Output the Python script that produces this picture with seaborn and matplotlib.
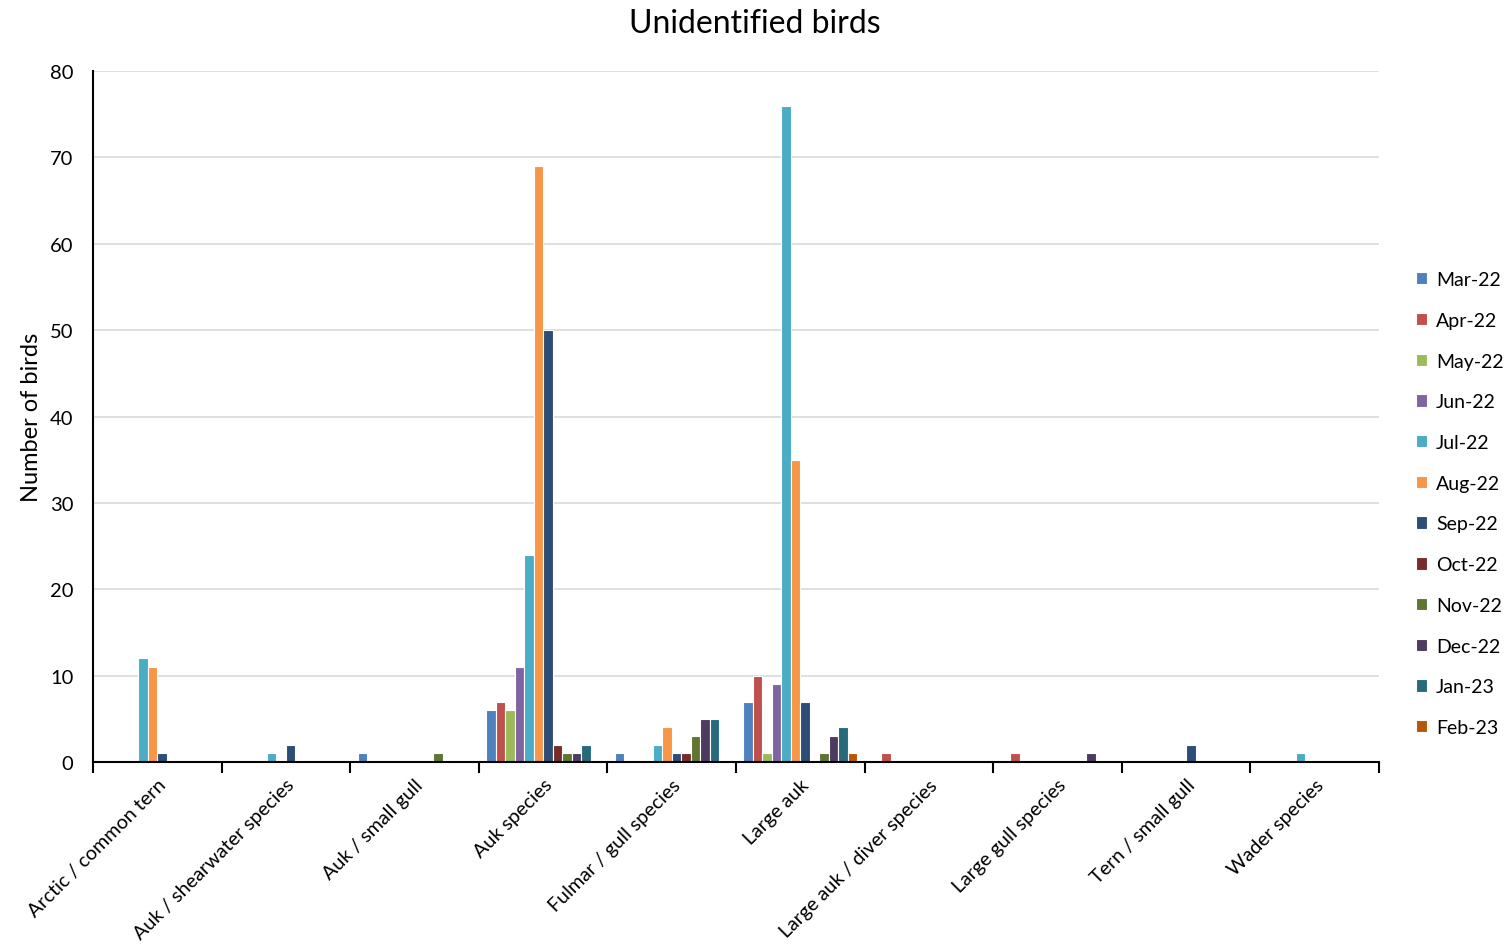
import numpy as np
import pandas as pd
import matplotlib
matplotlib.use("Agg")
import matplotlib.pyplot as plt
import seaborn as sns

categories = [
    "Arctic / common tern",
    "Auk / shearwater species",
    "Auk / small gull",
    "Auk species",
    "Fulmar / gull species",
    "Large auk",
    "Large auk / diver species",
    "Large gull species",
    "Tern / small gull",
    "Wader species",
]

months = ["Mar-22", "Apr-22", "May-22", "Jun-22", "Jul-22", "Aug-22",
          "Sep-22", "Oct-22", "Nov-22", "Dec-22", "Jan-23", "Feb-23"]

# counts per category, one entry per month (Mar-22 .. Feb-23)
arctic_common_tern = [0, 0, 0, 0, 12, 11, 1, 0, 0, 0, 0, 0]
auk_shearwater     = [0, 0, 0, 0, 1, 0, 2, 0, 0, 0, 0, 0]
auk_small_gull     = [1, 0, 0, 0, 0, 0, 0, 0, 1, 0, 0, 0]
auk_species        = [6, 7, 6, 11, 24, 69, 50, 2, 1, 1, 2, 0]
fulmar_gull        = [1, 0, 0, 0, 2, 4, 1, 1, 3, 5, 5, 0]
large_auk          = [7, 10, 1, 9, 76, 35, 7, 0, 1, 3, 4, 1]
large_auk_diver    = [0, 1, 0, 0, 0, 0, 0, 0, 0, 0, 0, 0]
large_gull         = [0, 1, 0, 0, 0, 0, 0, 0, 0, 1, 0, 0]
tern_small_gull    = [0, 0, 0, 0, 0, 0, 2, 0, 0, 0, 0, 0]
wader_species      = [0, 0, 0, 0, 1, 0, 0, 0, 0, 0, 0, 0]

month_colors = ["#4F81BD", "#C0504D", "#9BBB59", "#8064A2", "#4BACC6", "#F79646",
                "#2C4D75", "#772C2A", "#5F7530", "#4D3B62", "#276A7C", "#B65708"]

series = [arctic_common_tern, auk_shearwater, auk_small_gull, auk_species,
          fulmar_gull, large_auk, large_auk_diver, large_gull,
          tern_small_gull, wader_species]

rows = []
for cat, vals in zip(categories, series):
    for m, v in zip(months, vals):
        rows.append({"Category": cat, "Month": m, "Count": v})
df = pd.DataFrame(rows)

sns.set_theme(style="white")
plt.rcParams["font.family"] = ["Lato", "DejaVu Sans"]
plt.rcParams["text.color"] = "black"
plt.rcParams["axes.labelcolor"] = "black"
plt.rcParams["xtick.color"] = "black"
plt.rcParams["ytick.color"] = "black"

fig = plt.figure(figsize=(15.09, 9.45), dpi=100)
ax = fig.add_axes([0.0616, 0.1926, 0.8523, 0.7312])

sns.barplot(data=df, x="Category", y="Count", hue="Month",
            order=categories, hue_order=months, palette=month_colors,
            width=0.886, gap=0, edgecolor="white", linewidth=0.8,
            saturation=1, errorbar=None, ax=ax, zorder=3)

ax.set_ylim(0, 80)
ax.set_xlim(-0.5, len(categories) - 0.5)
ax.set_yticks(np.arange(0, 81, 10))
ax.yaxis.grid(True, color="#d9d9d9", linewidth=1.2)
ax.set_axisbelow(True)

for side in ["top", "right"]:
    ax.spines[side].set_visible(False)
for side in ["left", "bottom"]:
    ax.spines[side].set_color("black")
    ax.spines[side].set_linewidth(1.5)
    ax.spines[side].set_zorder(5)

ax.set_xticks(np.arange(-0.5, len(categories) + 0.5), minor=True)
ax.tick_params(axis="x", which="minor", length=8, width=1.5, color="black",
               direction="out", bottom=True)
ax.tick_params(axis="x", which="major", length=0, pad=10)
ax.tick_params(axis="y", length=0, pad=14, labelsize=14.5)
ax.set_xticks(np.arange(len(categories)))
ax.set_xticklabels(categories, rotation=45, ha="right",
                   rotation_mode="anchor", fontsize=14.2)

ax.set_xlabel("")
ax.set_ylabel("Number of birds", fontsize=17, labelpad=6)
fig.suptitle("Unidentified birds", fontsize=23, x=0.5, y=0.99, va="top")

handles, labels = ax.get_legend_handles_labels()
leg = ax.legend(handles, labels, loc="center left",
                bbox_to_anchor=(0.933, 0.466), bbox_transform=fig.transFigure,
                frameon=False, fontsize=14, handlelength=0.6, handleheight=0.6,
                handletextpad=0.45, labelspacing=1.22, borderaxespad=0)

fig.savefig("out.png", dpi=100)
